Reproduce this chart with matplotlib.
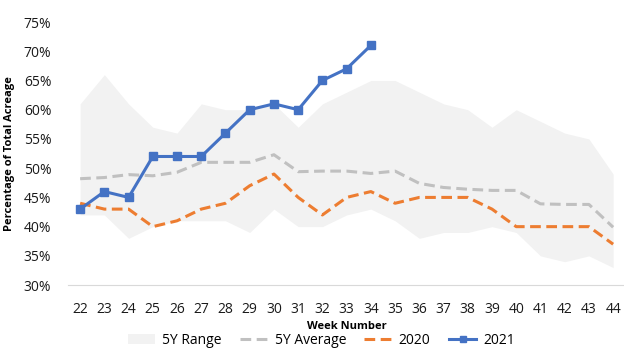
import numpy as np
import matplotlib.pyplot as plt
from matplotlib.patches import Patch
from matplotlib.lines import Line2D

plt.rcParams['font.family'] = ['Open Sans', 'DejaVu Sans']

# Week numbers on the x axis
weeks = list(range(22, 45))

# 5 year range (min / max) in percent
range_low = [42, 42, 38, 40, 41, 41, 41, 39, 43, 40, 40, 42, 43, 41, 38, 39, 39, 40, 39, 35, 34, 35, 33]
range_high = [61, 66, 61, 57, 56, 61, 60, 60, 61, 57, 61, 63, 65, 65, 63, 61, 60, 57, 60, 58, 56, 55, 49]

# 5 year average
avg_5y = [48.2, 48.4, 48.9, 48.7, 49.3, 51.0, 51.0, 51.0, 52.3, 49.4, 49.5, 49.5, 49.1,
          49.5, 47.4, 46.7, 46.4, 46.2, 46.2, 43.9, 43.8, 43.8, 39.9]

# 2020 and 2021 seasons
y2020 = [44, 43, 43, 40, 41, 43, 44, 47, 49, 45, 42, 45, 46, 44, 45, 45, 45, 43, 40, 40, 40, 40, 37]
weeks_2021 = list(range(22, 35))
y2021 = [43, 46, 45, 52, 52, 52, 56, 60, 61, 60, 65, 67, 71]

c_range = '#f2f2f2'
c_avg = '#c0c0c0'
c_2020 = '#ed7d31'
c_2021 = '#4472c4'

fig = plt.figure(figsize=[6.24, 3.52], dpi=100)
ax = fig.add_axes([0.109, 0.19, 0.893, 0.7475])

ax.fill_between(weeks, range_low, range_high, color=c_range, linewidth=0, zorder=1)
ax.plot(weeks, avg_5y, color=c_avg, linestyle=(0, (3.5, 1.8)), linewidth=2.2, zorder=2)
ax.plot(weeks, y2020, color=c_2020, linestyle=(0, (3.5, 1.8)), linewidth=2.2, zorder=3)
ax.plot(weeks_2021, y2021, color=c_2021, linewidth=2.2, marker='s', markersize=5.5, zorder=4)

ax.set_xlim(21.5, 44.5)
ax.set_ylim(30, 75)
ax.set_xticks(weeks)
ax.set_yticks(np.arange(30, 76, 5))
ax.set_yticklabels([f'{v}%' for v in range(30, 76, 5)])
ax.tick_params(axis='both', length=0, labelsize=10, colors='#1a1a1a')
ax.tick_params(axis='x', pad=12)
ax.tick_params(axis='y', pad=12)

for side in ['top', 'right', 'left']:
    ax.spines[side].set_visible(False)
ax.spines['bottom'].set_color('#d9d9d9')

ax.set_xlabel('Week Number', fontsize=8, fontweight='bold', labelpad=3)
ax.set_ylabel('Percentage of Total Acreage', fontsize=8, fontweight='bold', labelpad=4)
ax.yaxis.set_label_coords(-0.095, 0.5)

handles = [
    Patch(facecolor=c_range, edgecolor='none'),
    Line2D([], [], color=c_avg, linestyle=(0, (3.5, 1.8)), linewidth=2.2),
    Line2D([], [], color=c_2020, linestyle=(0, (3.5, 1.8)), linewidth=2.2),
    Line2D([], [], color=c_2021, linewidth=2.2, marker='s', markersize=5),
]
fig.legend(handles, ['5Y Range', '5Y Average', '2020', '2021'], loc='center',
           bbox_to_anchor=(0.515, 0.033), ncol=4, frameon=False, fontsize=10,
           handlelength=2.0, columnspacing=1.3, handletextpad=0.5)

fig.savefig('out.png', dpi=100)
